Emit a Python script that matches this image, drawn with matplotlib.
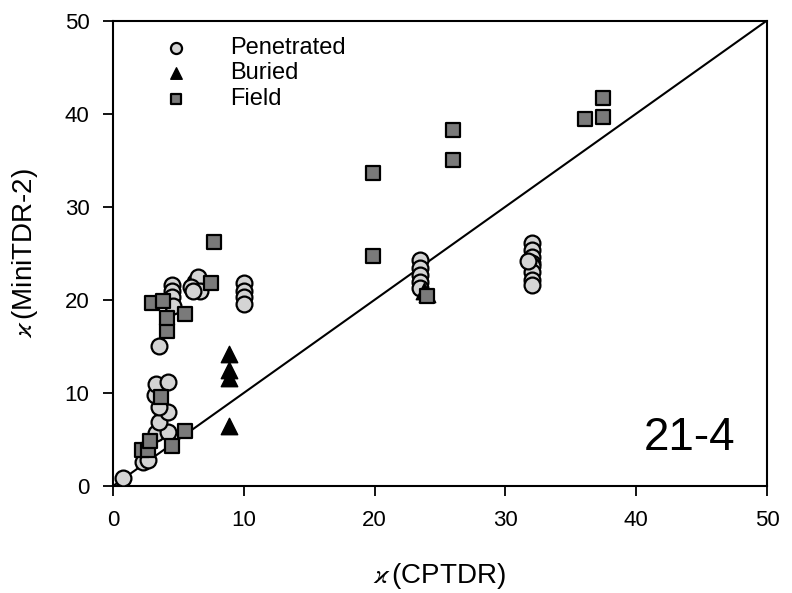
import matplotlib
matplotlib.use('Agg')
import matplotlib.pyplot as plt

plt.rcParams['font.family'] = ['Liberation Sans', 'DejaVu Sans']
plt.rcParams['mathtext.fontset'] = 'stix'

# ── data ─────────────────────────────────────────────────────
pen_x = [0.8, 2.3, 2.7, 3.3, 4.2, 3.5, 4.2, 3.5, 3.2, 3.3, 4.2, 3.5,
         4.5, 4.5, 4.5, 4.6, 6.3, 6.5, 6.0, 6.65, 6.1,
         10.0, 10.0, 10.0, 10.0,
         23.5, 23.5, 23.5, 23.5, 23.5,
         32.0, 32.0, 32.0, 32.0, 32.0, 32.0, 32.0, 32.0, 31.7]
pen_y = [0.9, 2.6, 2.8, 5.7, 5.8, 6.9, 8.0, 8.5, 9.8, 11.0, 11.2, 15.0,
         21.6, 20.9, 20.3, 19.3, 21.9, 22.5, 21.4, 20.9, 21.0,
         21.8, 21.0, 20.3, 19.6,
         24.3, 23.4, 22.7, 21.9, 21.3,
         26.1, 25.3, 24.6, 24.0, 23.6, 23.0, 22.1, 21.6, 24.2]

bur_x = [8.9, 8.9, 8.9, 8.9, 23.8, 24.0]
bur_y = [14.2, 12.5, 11.6, 6.4, 21.0, 20.6]

fld_x = [2.2, 2.7, 2.8, 4.5, 5.5, 3.7, 4.1, 4.1, 5.5, 2.95, 3.85,
         7.5, 7.7, 24.0, 19.9, 19.9, 26.0, 26.0, 36.1, 37.5, 37.5]
fld_y = [3.9, 3.9, 4.8, 4.3, 5.9, 9.6, 16.6, 18.0, 18.5, 19.7, 19.9,
         21.8, 26.2, 20.4, 33.6, 24.7, 38.2, 35.0, 39.4, 41.7, 39.6]

fig = plt.figure(figsize=(7.92, 5.93), dpi=100)
ax = fig.add_axes([0.1427, 0.1804, 0.8257, 0.785])

ax.plot([0, 50], [0, 50], color='black', lw=1.5, zorder=1)
ax.scatter(pen_x, pen_y, s=130, marker='o', facecolor='#d4d4d4',
           edgecolor='black', linewidths=1.6, label='Penetrated', zorder=3)
ax.scatter(bur_x, bur_y, s=140, marker='^', facecolor='black',
           edgecolor='black', linewidths=1, label='Buried', zorder=3)
ax.scatter(fld_x, fld_y, s=100, marker='s', facecolor='#7a7a7a',
           edgecolor='black', linewidths=1.6, label='Field', zorder=4)

ax.set_xlim(0, 50)
ax.set_ylim(0, 50)
ax.set_xticks(range(0, 51, 10))
ax.set_yticks(range(0, 51, 10))
ax.tick_params(direction='out', length=7, width=1.3, labelsize=16, pad=10)
for sp in ax.spines.values():
    sp.set_linewidth(1.5)

ax.set_xlabel(r'$\varkappa\,$(CPTDR)', fontsize=20, labelpad=22)
ax.set_ylabel(r'$\varkappa\,$(MiniTDR-2)', fontsize=20, labelpad=18)

ax.text(0.951, 0.056, '21-4', transform=ax.transAxes, fontsize=33,
        ha='right', va='bottom')

ax.legend(loc='upper left', bbox_to_anchor=(0.045, 0.985), frameon=False,
          fontsize=17, handletextpad=1.3, labelspacing=0.15,
          borderaxespad=0, markerscale=0.7)

fig.savefig('out.png', dpi=100)
